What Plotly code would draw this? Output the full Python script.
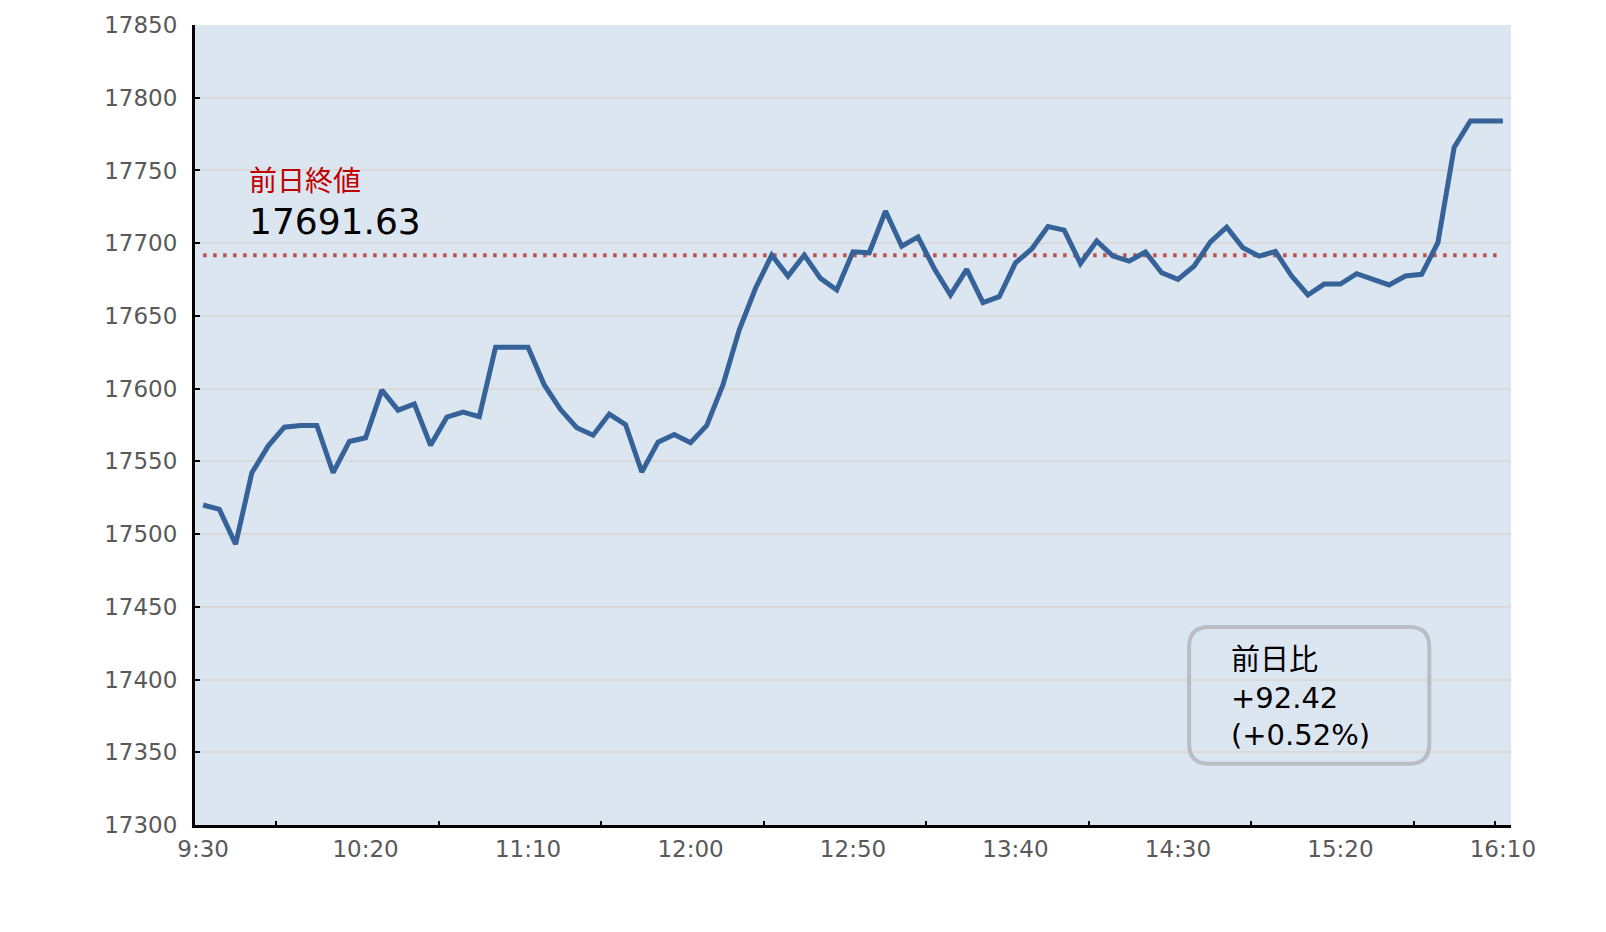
import plotly.graph_objects as go

# 日経平均 5分足 (9:30 - 16:10)
minutes = list(range(0, 405, 5))   # minutes after 9:30
price = [17520.0, 17517.0, 17493.0, 17542.2, 17560.5, 17573.5, 17574.7, 17574.7, 17542.2, 17563.7,
         17566.2, 17599.0, 17585.2, 17589.5, 17561.0, 17580.4, 17583.8, 17580.8, 17628.5, 17628.5,
         17628.5, 17602.5, 17585.6, 17573.1, 17568.0, 17582.5, 17575.3, 17542.7, 17563.2, 17568.5,
         17562.8, 17574.7, 17602.7, 17640.4, 17669.0, 17691.8, 17677.4, 17691.8, 17675.8, 17667.8,
         17694.1, 17693.4, 17722.1, 17697.9, 17704.3, 17682.6, 17664.4, 17682.0, 17659.1, 17663.2,
         17686.5, 17696.0, 17711.5, 17709.0, 17686.0, 17701.5, 17691.1, 17687.7, 17693.9, 17679.7,
         17675.1, 17684.3, 17700.9, 17711.0, 17696.8, 17691.1, 17694.3, 17677.4, 17664.4, 17671.9,
         17671.9, 17679.0, 17675.1, 17671.3, 17677.4, 17678.6, 17700.3, 17765.8, 17784.05, 17784.05,
         17784.05]
prev_close = 17691.63
change = "+92.42"
change_pct = "(+0.52%)"

tick_minutes = [0, 50, 100, 150, 200, 250, 300, 350, 400]
tick_labels = ["9:30", "10:20", "11:10", "12:00", "12:50", "13:40", "14:30", "15:20", "16:10"]
minor_ticks = [22.5, 72.5, 122.5, 172.5, 222.5, 272.5, 322.5, 372.5, 397.5]

FONT = "DejaVu Sans, Noto Sans CJK JP, sans-serif"

fig = go.Figure()

# 前日終値の点線
fig.add_trace(go.Scatter(x=[minutes[0], minutes[-1]], y=[prev_close, prev_close],
                         mode="lines", line=dict(color="#C0504D", width=4, dash="3.5px,6.5px"),
                         hoverinfo="skip", showlegend=False))

fig.add_trace(go.Scatter(x=minutes, y=price, mode="lines",
                         line=dict(color="#36629A", width=5), showlegend=False))

fig.update_xaxes(range=[-2.5, 402.5], tickmode="array", tickvals=tick_minutes, ticktext=tick_labels,
                 ticks="", showgrid=False, zeroline=False, automargin=False,
                 showline=True, linecolor="black", linewidth=3,
                 tickfont=dict(family=FONT, size=23, color="#595959"), ticklabelstandoff=1,
                 minor=dict(tickmode="array", tickvals=minor_ticks, ticks="inside",
                            ticklen=4, tickwidth=2, tickcolor="black", showgrid=False))

fig.update_yaxes(range=[17300, 17850], dtick=50, tick0=17300, tickformat="d",
                 ticks="inside", ticklen=5, automargin=False,
                 tickwidth=2, tickcolor="black", showline=True, linecolor="black", linewidth=3,
                 showgrid=True, gridcolor="#D9D9D9", gridwidth=1.5, zeroline=False,
                 tickfont=dict(family=FONT, size=23, color="#595959"), ticklabelstandoff=10)

# 前日比の枠 (角丸)
x0, x1, y0, y1 = 0.7554, 0.9379, 0.0766, 0.2475
rx, ry = 0.0152, 0.025
box = (f"M {x0+rx},{y1} L {x1-rx},{y1} Q {x1},{y1} {x1},{y1-ry} "
       f"L {x1},{y0+ry} Q {x1},{y0} {x1-rx},{y0} L {x0+rx},{y0} Q {x0},{y0} {x0},{y0+ry} "
       f"L {x0},{y1-ry} Q {x0},{y1} {x0+rx},{y1} Z")
fig.add_shape(type="path", path=box, xref="paper", yref="paper",
              line=dict(color="#B9BEC6", width=4), fillcolor="rgba(0,0,0,0)")

fig.add_annotation(x=0.0396, y=0.804, xref="paper", yref="paper", xanchor="left", yanchor="middle",
                   text="前日終値", showarrow=False, font=dict(family=FONT, size=28, color="#C00000"))
fig.add_annotation(x=0.0396, y=0.754, xref="paper", yref="paper", xanchor="left", yanchor="middle",
                   text=f"{prev_close:.2f}", showarrow=False, font=dict(family=FONT, size=36, color="black"))
fig.add_annotation(x=0.786, y=0.159, xref="paper", yref="paper", xanchor="left", yanchor="middle",
                   align="left", text=f"前日比<br>{change}<br>{change_pct}", showarrow=False,
                   font=dict(family=FONT, size=29, color="black"))

# ページ本体の余白 (8px) を差し引いた大きさ
fig.update_layout(width=1590, height=916,
                  margin={"l": 186.5, "r": 86.5, "t": 17, "b": 99},
                  paper_bgcolor="white", plot_bgcolor="#DCE6F1")

fig.write_html("out.html")
